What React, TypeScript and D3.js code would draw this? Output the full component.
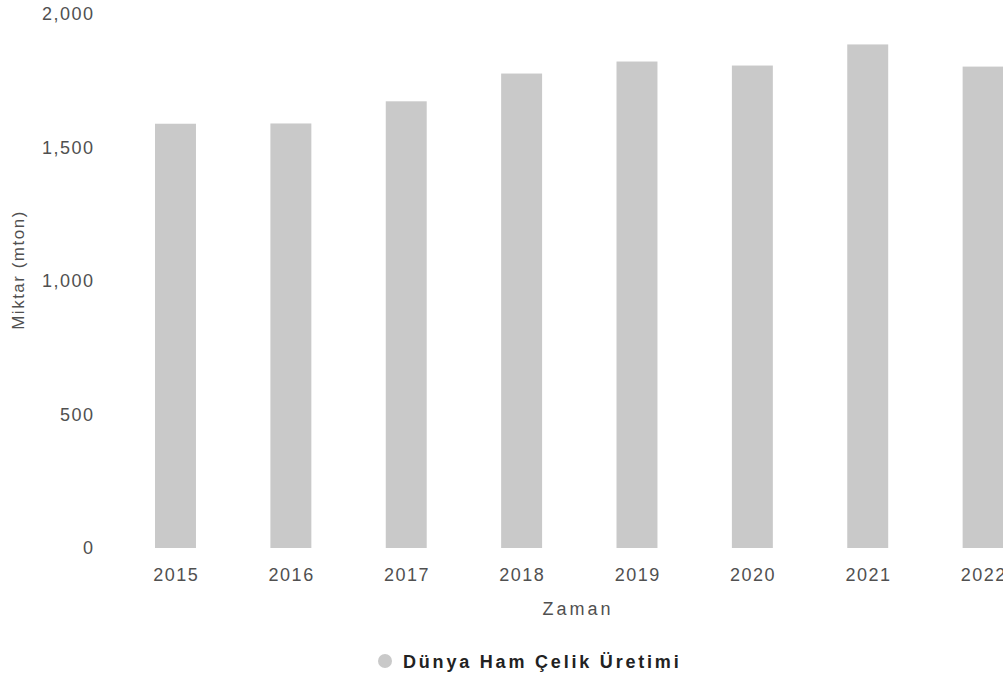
import React from "react";
import * as d3 from "d3";

const years = ["2015", "2016", "2017", "2018", "2019", "2020", "2021", "2022"];
const production = [1589, 1590, 1673, 1777, 1822, 1807, 1886, 1803];
const yTicks = [0, 500, 1000, 1500, 2000];
const seriesName = "Dünya Ham Çelik Üretimi";
const xTitle = "Zaman";
const yTitle = "Miktar (mton)";

const W = 1003;
const H = 681;

export default function App() {
  const x = d3.scaleBand<string>().domain(years).range([80.6, 1078]).padding(0.645);
  const y = d3.scaleLinear().domain([0, 2000]).range([548, 14]);
  const fmt = d3.format(",");
  const font = "'Liberation Sans', Arial, sans-serif";
  const txt = "#505050";
  return (
    <svg width={W} height={H} style={{ position: "absolute", left: 0, top: 0, background: "#fff" }}>
      <g fontFamily={font}>
        {yTicks.map((t) => (
          <text key={t} x={94.5} y={y(t)} dy="0.35em" textAnchor="end" fontSize={18} fill={txt} letterSpacing={1.5}>
            {fmt(t)}
          </text>
        ))}
        {years.map((yr, i) => (
          <rect key={yr} x={x(yr)} y={y(production[i])} width={x.bandwidth()} height={y(0) - y(production[i])} fill="#c9c9c9" />
        ))}
        {years.map((yr) => (
          <text key={yr} x={(x(yr) as number) + x.bandwidth() / 2 + 0.75} y={575} dy="0.35em" textAnchor="middle" fontSize={18} fill={txt} letterSpacing={1.5}>
            {yr}
          </text>
        ))}
        <text x={578} y={609} dy="0.35em" textAnchor="middle" fontSize={18} fill={txt} letterSpacing={3}>
          {xTitle}
        </text>
        <text transform="translate(18,270) rotate(-90)" dy="0.35em" textAnchor="middle" fontSize={17} fill={txt} letterSpacing={1.5}>
          {yTitle}
        </text>
        <circle cx={385} cy={661} r={7} fill="#c9c9c9" />
        <text x={403} y={662} dy="0.35em" fontSize={18} fontWeight="bold" fill="#222" letterSpacing={2.8}>
          {seriesName}
        </text>
      </g>
    </svg>
  );
}
